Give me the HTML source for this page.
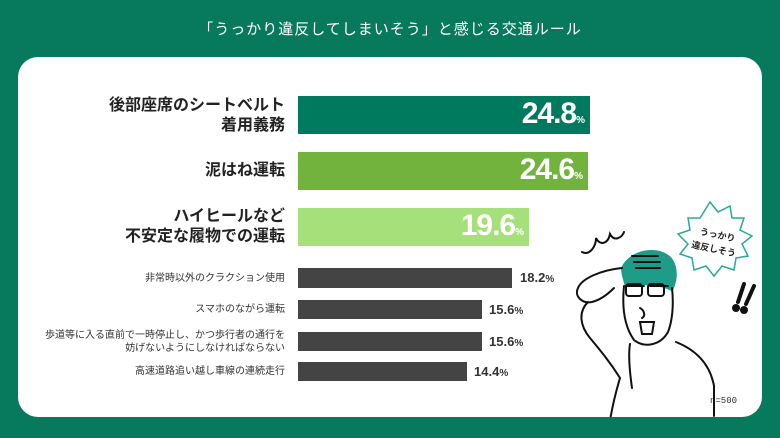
<!DOCTYPE html>
<html><head><meta charset="utf-8"><style>
body{margin:0;width:780px;height:438px;background:#077a5d;position:relative;overflow:hidden;font-family:"Liberation Sans","Noto Sans CJK JP",sans-serif}
.t{position:absolute;left:0;width:780px;top:18px;text-align:center;color:#fff;font-size:15px;letter-spacing:1px}
.card{position:absolute;left:18px;top:57px;width:744px;height:360px;background:#fff;border-radius:20px}
.b{position:absolute;left:298px}
.l{position:absolute;right:495px;text-align:right;color:#222;font-weight:bold;line-height:20px}
.ls{position:absolute;right:495px;text-align:right;color:#333;font-size:10px;line-height:13px}
.v{position:absolute;color:#fff;font-weight:bold;font-size:30px;text-align:right;letter-spacing:-1px}
.v small,.vs small{font-size:10px}
.vs{position:absolute;color:#333;font-weight:bold;font-size:13px}
</style></head><body>
<div class="t">「うっかり違反してしまいそう」と感じる交通ルール</div>
<div class="card"></div>
<div class="b" style="top:96px;width:292px;height:38px;background:#007a5e"></div>
<div class="b" style="top:152px;width:290px;height:38px;background:#72b33e"></div>
<div class="b" style="top:208px;width:231px;height:38px;background:#a5e07a"></div>
<div class="b" style="top:268px;width:214px;height:20px;background:#444"></div>
<div class="b" style="top:300px;width:184px;height:19px;background:#444"></div>
<div class="b" style="top:332px;width:184px;height:19px;background:#444"></div>
<div class="b" style="top:362px;width:169px;height:19px;background:#444"></div>
<div class="l" style="top:96px;font-size:16px">後部座席のシートベルト<br>着用義務</div>
<div class="l" style="top:161px;font-size:16px">泥はね運転</div>
<div class="l" style="top:207px;font-size:16px">ハイヒールなど<br>不安定な履物での運転</div>
<div class="ls" style="top:272px">非常時以外のクラクション使用</div>
<div class="ls" style="top:303px">スマホのながら運転</div>
<div class="ls" style="top:329px">歩道等に入る直前で一時停止し、かつ歩行者の通行を<br>妨げないようにしなければならない</div>
<div class="ls" style="top:365px">高速道路追い越し車線の連続走行</div>
<div class="v" style="top:97px;right:196px">24.8<small>%</small></div>
<div class="v" style="top:153px;right:198px">24.6<small>%</small></div>
<div class="v" style="top:209px;right:257px">19.6<small>%</small></div>
<div class="vs" style="top:270px;left:520px">18.2<small>%</small></div>
<div class="vs" style="top:302px;left:489px">15.6<small>%</small></div>
<div class="vs" style="top:334px;left:489px">15.6<small>%</small></div>
<div class="vs" style="top:364px;left:474px">14.4<small>%</small></div>
<div style="position:absolute;left:710px;top:396px;font-size:9px;color:#333;font-family:'Liberation Mono',monospace">n=500</div>
<svg style="position:absolute;left:560px;top:190px" width="202" height="227" viewBox="0 0 202 227" fill="none" stroke="#111" stroke-width="2" stroke-linecap="round">
<polygon points="150,12 158,22 170,16 172,28 184,28 180,40 192,46 182,54 188,66 176,68 174,80 162,76 154,86 146,76 134,80 132,68 120,64 128,54 118,44 130,40 128,28 140,28" fill="#fff" stroke="#2aa898" stroke-width="1.5"/>
<text x="157" y="48" font-size="9" fill="#222" stroke="none" text-anchor="middle" font-weight="bold" font-family="Noto Sans CJK JP" transform="rotate(12 157 48)">うっかり</text>
<text x="153" y="62" font-size="9" fill="#222" stroke="none" text-anchor="middle" font-weight="bold" font-family="Noto Sans CJK JP" transform="rotate(12 153 62)">違反しそう</text>
<path d="M22 62c8 4 14-6 14-14 4 8 12 6 14-4 4 8 12 4 14-2"/>
<path d="M62 78c10-20 40-22 50-8 6 10 4 22 0 30-12-6-36-8-46-4-2-6-4-12-4-18z" fill="#1e9b89" stroke="#1e9b89"/>
<path d="M72 66h26M74 72h26M76 78h24" stroke="#111"/>
<path d="M64 96c-2 20 0 40 10 54 10 8 26 6 34-8 4-10 6-26 4-44"/>
<path d="M66 96h18M90 96h18" /><rect x="66" y="94" width="16" height="12" rx="3"/><rect x="88" y="94" width="16" height="12" rx="3"/>
<path d="M80 118c4 2 6 8 2 10M80 132h14l-2 12h-10z"/>
<path d="M62 78c-20 2-40 10-44 20-4 8 4 16 14 14 8-2 16-8 22-14M28 112c-10 10-8 24 2 36 10 12 20 24 30 40M116 152c20 8 34 22 38 44v30M70 154c-2 12 0 30 2 44M60 188c-6 20-10 40-12 56"/>
<path d="M184 94l-6 18M194 96l-8 18" stroke-width="4"/><circle cx="176" cy="118" r="3" fill="#111"/><circle cx="184" cy="120" r="3" fill="#111"/>
</svg>
</body></html>
